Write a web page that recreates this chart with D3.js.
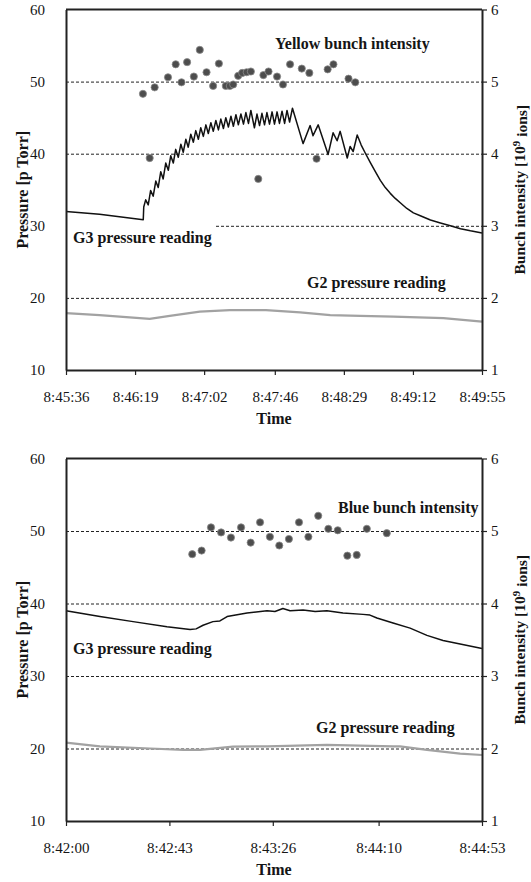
<!DOCTYPE html>
<html lang="en">
<head>
<meta charset="UTF-8">
<title>Pressure and bunch intensity</title>
<script src="https://cdn.jsdelivr.net/npm/d3@7"></script>
<style>
  body { margin: 0; background: #fff; }
  svg text { font-family: "Liberation Serif", "Times New Roman", serif; fill: #151515; }
</style>
</head>
<body>
<div id="viz"></div>
<script>
// ---------- top panel (yellow ring), times = seconds after 8:45:36
const topTickSec = [0, 43, 86, 130, 173, 216, 259];
const topTickLabels = ['8:45:36', '8:46:19', '8:47:02', '8:47:46', '8:48:29', '8:49:12', '8:49:55'];

// G3 pressure [pTorr]
const topG3 = [
  [0, 32.0], [20.9, 31.6], [48.1, 30.85], [48.4, 32.6],
  [49.6, 33.6], [51.2, 32.9], [52.7, 34.9], [54.3, 34.1], [55.9, 36.2], [57.4, 35.3], [59.0, 37.5], [60.5, 36.5],
  [62.1, 38.7], [63.7, 37.7], [65.2, 39.7], [66.8, 38.7], [68.3, 40.6], [69.9, 39.5], [71.5, 41.3], [73.0, 40.2],
  [74.6, 42.0], [76.1, 40.9], [77.7, 42.7], [79.3, 41.6], [80.8, 43.2], [82.4, 42.0], [83.9, 43.6], [85.5, 42.4],
  [87.1, 44.0], [88.6, 42.8], [90.2, 44.3], [91.7, 43.1], [93.3, 44.6], [94.9, 43.3], [96.4, 44.8], [98.0, 43.5],
  [99.5, 45.0], [101.1, 43.7], [102.7, 45.2], [104.2, 43.8], [105.8, 45.4], [107.3, 44.0], [108.9, 45.5], [110.5, 44.1],
  [112.0, 45.7], [113.6, 44.2], [115.1, 46.0], [117.3, 43.6], [118.9, 45.5], [120.5, 43.9], [122.0, 45.6], [123.6, 44.0],
  [125.1, 45.7], [126.7, 44.1], [128.3, 45.8], [129.8, 44.1], [131.4, 45.8], [132.9, 44.2], [134.5, 45.9], [136.1, 44.2],
  [137.6, 46.0], [139.2, 44.4], [141.0, 46.3],
  [147.6, 41.4], [152.0, 43.9], [153.8, 42.5], [157.0, 44.0], [163.2, 39.9], [166.3, 42.9], [168.8, 41.8], [170.7, 43.1],
  [175.1, 39.4], [176.9, 41.0], [178.8, 40.3], [181.3, 42.6], [183.8, 41.2], [186.3, 40.1], [189.4, 38.8], [192.6, 37.5],
  [195.7, 36.3], [198.8, 35.3], [201.9, 34.5], [205.0, 33.8], [208.1, 33.2], [212.2, 32.4], [216.3, 31.8], [220.6, 31.4],
  [226.9, 30.8], [233.1, 30.4], [239.3, 30.0], [245.6, 29.6], [251.8, 29.3], [259.0, 29.0]
];

// G2 pressure [pTorr]
const topG2 = [
  [0, 17.9], [20.9, 17.6], [39.6, 17.3], [52.1, 17.1], [64.6, 17.5], [83.3, 18.1], [102.0, 18.3],
  [124.5, 18.3], [145.8, 18.0], [164.5, 17.6], [183.2, 17.5], [203.8, 17.4], [235.0, 17.2], [259.0, 16.7]
];

// yellow bunch intensity [1e9 ions]
const yellowBunch = [
  [47.9, 4.83], [52.1, 3.94], [55.2, 4.92], [63.5, 5.06], [68.3, 5.24], [71.9, 4.99], [75.4, 5.27], [79.6, 5.07],
  [83.3, 5.44], [87.5, 5.13], [91.6, 4.94], [95.2, 5.25], [99.5, 4.94], [102.0, 4.94], [104.1, 4.96], [107.2, 5.08],
  [109.7, 5.12], [112.5, 5.13], [115.1, 5.14], [119.7, 3.65], [122.9, 5.09], [126.1, 5.14], [131.4, 5.07], [135.1, 4.96],
  [139.5, 5.24], [146.8, 5.18], [151.5, 5.12], [156.0, 3.93], [162.9, 5.17], [166.5, 5.24], [175.9, 5.04], [180.1, 4.99]
];

// ---------- bottom panel (blue ring), times = seconds after 8:42:00
const botTickSec = [0, 43, 86, 130, 173];
const botTickLabels = ['8:42:00', '8:42:43', '8:43:26', '8:44:10', '8:44:53'];

const botG3 = [
  [0, 39.0], [14.1, 38.2], [27.9, 37.5], [42.0, 36.8], [51.6, 36.4], [54.1, 36.5], [57.0, 37.0], [61.1, 37.5],
  [64.0, 37.6], [67.0, 38.2], [75.3, 38.7], [83.6, 39.0], [86.9, 38.9], [90.2, 39.3], [93.2, 39.0], [98.6, 39.1],
  [103.6, 38.9], [108.5, 39.0], [115.2, 38.7], [123.5, 38.5], [126.4, 38.4], [129.3, 38.0], [136.0, 37.3],
  [143.1, 36.6], [150.1, 35.6], [156.8, 34.9], [163.9, 34.4], [173.0, 33.8]
];

const botG2 = [
  [0, 20.8], [14.1, 20.3], [34.9, 20.0], [48.7, 19.8], [55.7, 19.8], [69.4, 20.25], [83.6, 20.3],
  [108.5, 20.5], [136.0, 20.3], [138.9, 20.3], [150.1, 19.8], [163.9, 19.3], [173.0, 19.1]
];

const blueBunch = [
  [52.5, 4.68], [56.4, 4.73], [60.3, 5.05], [64.5, 4.98], [68.6, 4.91], [72.8, 5.05], [76.8, 4.84], [80.7, 5.12],
  [84.8, 4.92], [88.7, 4.80], [92.7, 4.89], [96.9, 5.12], [100.8, 4.92], [104.9, 5.21], [109.1, 5.03], [113.0, 5.01],
  [117.0, 4.66], [120.9, 4.67], [125.1, 5.03], [133.4, 4.97]
];

const pressureTicks = [10, 20, 30, 40, 50, 60];
const gridLevels = [20, 30, 40, 50];
const intensityTicks = [1, 2, 3, 4, 5, 6];

const svg = d3.select('#viz').append('svg')
  .attr('width', 531)
  .attr('height', 882);

function panel(cfg) {
  const left = 66, right = 482;
  const top = cfg.top, bottom = cfg.bottom;
  const x = d3.scaleLinear().domain([0, d3.max(cfg.tickSec)]).range([left, right]);
  const y = d3.scaleLinear().domain([10, 60]).range([bottom, top]);
  const yR = d3.scaleLinear().domain([1, 6]).range([bottom, top]);
  const g = svg.append('g');

  // dashed grid
  g.append('g')
    .attr('transform', `translate(${left},0)`)
    .call(d3.axisLeft(y).tickValues(gridLevels).tickSize(-(right - left)).tickFormat(''))
    .call(s => {
      s.select('.domain').remove();
      s.selectAll('line').attr('stroke', '#222').attr('stroke-dasharray', '3,2');
    });

  // text boxes (white background like the original)
  cfg.labels.forEach(l => {
    const box = g.append('g');
    const rect = box.append('rect').attr('fill', '#fff');
    const t = box.append('text')
      .attr('x', l.x).attr('y', l.y).attr('dy', '0.35em')
      .attr('font-size', 16).attr('font-weight', 'bold')
      .text(l.text);
    const b = t.node().getBBox();
    rect.attr('x', b.x - (l.padL || 3)).attr('y', b.y - (l.padT || 1))
      .attr('width', b.width + (l.padL || 3) + 3).attr('height', b.height + (l.padT || 1) + 2);
  });

  const line = d3.line().x(d => x(d[0])).y(d => y(d[1]));

  g.append('path').datum(cfg.g2)
    .attr('d', line).attr('fill', 'none')
    .attr('stroke', '#a2a2a2').attr('stroke-width', 2.2);

  g.append('path').datum(cfg.g3)
    .attr('d', line).attr('fill', 'none')
    .attr('stroke', '#111').attr('stroke-width', 1.5).attr('stroke-linejoin', 'round');

  g.append('g').selectAll('circle')
    .data(cfg.bunch)
    .join('circle')
      .attr('cx', d => x(d[0]))
      .attr('cy', d => yR(d[1]))
      .attr('r', 3.6)
      .attr('fill', '#4d4d4d')
      .attr('stroke', '#8a8a8a')
      .attr('stroke-width', 0.8);

  // frame + axes
  g.append('line')
    .attr('x1', left).attr('x2', right).attr('y1', top).attr('y2', top)
    .attr('stroke', '#222').attr('stroke-width', 2);

  const styleAxis = s => {
    s.attr('font-family', null).attr('font-size', 15);
    s.select('.domain').attr('stroke', '#222').attr('stroke-width', 2);
    s.selectAll('.tick line').attr('stroke', '#222').attr('stroke-width', 1.2);
  };

  g.append('g')
    .attr('transform', `translate(${left},0)`)
    .call(d3.axisLeft(y).tickValues(pressureTicks).tickSize(0).tickSizeOuter(0).tickPadding(21))
    .call(styleAxis);

  g.append('g')
    .attr('transform', `translate(${right},0)`)
    .call(d3.axisRight(yR).tickValues(intensityTicks).tickSize(5).tickSizeOuter(0).tickPadding(4).tickFormat(d3.format('d')))
    .call(styleAxis);

  g.append('g')
    .attr('transform', `translate(0,${bottom})`)
    .call(d3.axisBottom(x).tickValues(cfg.tickSec).tickSize(5).tickSizeOuter(0).tickPadding(16)
      .tickFormat((d, i) => cfg.tickLabels[i]))
    .call(styleAxis);

  // axis titles
  g.append('text')
    .attr('x', (left + right) / 2).attr('y', bottom + 48).attr('dy', '0.35em')
    .attr('text-anchor', 'middle').attr('font-size', 16).attr('font-weight', 'bold')
    .text('Time');

  g.append('text')
    .attr('transform', `translate(22,${(top + bottom) / 2}) rotate(-90)`)
    .attr('dy', '0.35em')
    .attr('text-anchor', 'middle').attr('font-size', 16).attr('font-weight', 'bold')
    .text('Pressure [p Torr]');

  const rt = g.append('text')
    .attr('transform', `translate(520,${(top + bottom) / 2}) rotate(-90)`)
    .attr('dy', '0.35em')
    .attr('text-anchor', 'middle').attr('font-size', 15.5).attr('font-weight', 'bold');
  rt.append('tspan').text('Bunch intensity [10');
  rt.append('tspan').attr('dy', '-0.45em').attr('font-size', 11).text('9');
  rt.append('tspan').attr('dy', '0.45em').text(' ions]');
}

panel({
  top: 9.5, bottom: 370,
  tickSec: topTickSec, tickLabels: topTickLabels,
  g3: topG3, g2: topG2, bunch: yellowBunch,
  labels: [
    { text: 'Yellow bunch intensity', x: 275, y: 43 },
    { text: 'G3 pressure reading', x: 73, y: 237, padL: 7, padT: 7 },
    { text: 'G2 pressure reading', x: 307, y: 282 }
  ]
});

panel({
  top: 458.5, bottom: 821,
  tickSec: botTickSec, tickLabels: botTickLabels,
  g3: botG3, g2: botG2, bunch: blueBunch,
  labels: [
    { text: 'Blue bunch intensity', x: 338, y: 507 },
    { text: 'G3 pressure reading', x: 73, y: 648 },
    { text: 'G2 pressure reading', x: 316, y: 727 }
  ]
});
</script>
</body>
</html>
